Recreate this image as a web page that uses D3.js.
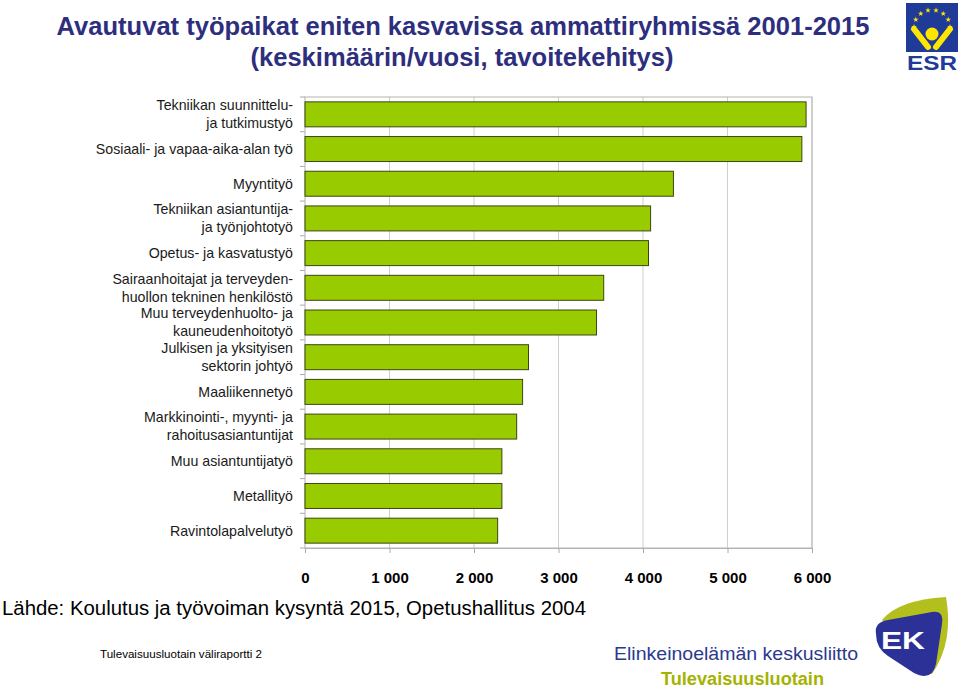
<!DOCTYPE html>
<html><head><meta charset="utf-8">
<script src="https://cdn.jsdelivr.net/npm/d3@7"></script>
<style>
body{margin:0;background:#fff;}
svg{display:block;font-family:"Liberation Sans",Arial,sans-serif;}
</style></head>
<body>
<svg id="chart" width="960" height="688"></svg>
<script>
const categories = [
  "Tekniikan suunnittelu-\nja tutkimustyö",
  "Sosiaali- ja vapaa-aika-alan työ",
  "Myyntityö",
  "Tekniikan asiantuntija-\nja työnjohtotyö",
  "Opetus- ja kasvatustyö",
  "Sairaanhoitajat ja terveyden-\nhuollon tekninen henkilöstö",
  "Muu terveydenhuolto- ja\nkauneudenhoitotyö",
  "Julkisen ja yksityisen\nsektorin johtyö",
  "Maaliikennetyö",
  "Markkinointi-, myynti- ja\nrahoitusasiantuntijat",
  "Muu asiantuntijatyö",
  "Metallityö",
  "Ravintolapalvelutyö"
];
const values = [5930, 5880, 4360, 4090, 4065, 3535, 3450, 2645, 2575, 2505, 2330, 2330, 2280];
const tickValues = [0, 1000, 2000, 3000, 4000, 5000, 6000];
const tickLabels = ["0", "1 000", "2 000", "3 000", "4 000", "5 000", "6 000"];
const titleLines = ["Avautuvat työpaikat eniten kasvavissa ammattiryhmissä 2001-2015", "(keskimäärin/vuosi, tavoitekehitys)"];

const svg = d3.select("#chart");
const L = 305, R = 812, T = 97, B = 548;

const x = d3.scaleLinear().domain([0, 6000]).range([L, R]);
const y = d3.scaleBand().domain(categories).range([T, B]).paddingInner(0.28).paddingOuter(0.14);

// grid
svg.append("g").selectAll("line").data(tickValues.slice(1)).join("line")
  .attr("x1", d => x(d)).attr("x2", d => x(d)).attr("y1", T).attr("y2", B)
  .attr("stroke", "#cfcfcf").attr("stroke-width", 1);
// plot border
svg.append("rect").attr("x", L).attr("y", T).attr("width", R - L).attr("height", B - T)
  .attr("fill", "none").attr("stroke", "#b4b4b4").attr("stroke-width", 1);

// left ticks at band boundaries
const off = (y.step() - y.bandwidth()) / 2;
svg.append("g").selectAll("line").data(categories).join("line")
  .attr("x1", L - 5).attr("x2", L).attr("y1", d => y(d) - off).attr("y2", d => y(d) - off)
  .attr("stroke", "#aaa");
svg.append("line").attr("x1", L - 5).attr("x2", L).attr("y1", B).attr("y2", B).attr("stroke", "#aaa");

// bottom axis
const ax = svg.append("g").attr("transform", `translate(0,${B})`)
  .call(d3.axisBottom(x).tickValues(tickValues).tickSize(5).tickPadding(19)
    .tickFormat((d, i) => tickLabels[i]));
ax.select(".domain").attr("stroke", "#b4b4b4");
ax.selectAll(".tick line").attr("stroke", "#aaa");
ax.selectAll(".tick text").attr("font-family", "'Liberation Sans',Arial,sans-serif")
  .attr("font-size", 15).attr("font-weight", "bold").attr("fill", "#000");

// bars
svg.append("g").selectAll("rect").data(categories).join("rect")
  .attr("x", x(0)).attr("y", d => y(d))
  .attr("width", (d, i) => x(values[i]) - x(0)).attr("height", y.bandwidth())
  .attr("fill", "#99cc00").attr("stroke", "#3b4712").attr("stroke-width", 1);

// category labels
const lab = svg.append("g").attr("font-size", 14.2).attr("fill", "#1a1a1a").attr("text-anchor", "end");
categories.forEach(c => {
  const lines = c.split("\n");
  const cy = y(c) + y.bandwidth() / 2;
  lines.forEach((ln, j) => {
    const dy = (j - (lines.length - 1) / 2) * 18;
    lab.append("text").attr("x", 293).attr("y", cy + dy + 4.9).text(ln);
  });
});

// title
svg.append("text").attr("x", 463).attr("y", 35).attr("text-anchor", "middle")
  .attr("font-size", 26).attr("font-weight", "bold").attr("fill", "#2e2e7e")
  .attr("textLength", 813).attr("lengthAdjust", "spacingAndGlyphs").text(titleLines[0]);
svg.append("text").attr("x", 462).attr("y", 66).attr("text-anchor", "middle")
  .attr("font-size", 26).attr("font-weight", "bold").attr("fill", "#2e2e7e")
  .attr("textLength", 423).attr("lengthAdjust", "spacingAndGlyphs").text(titleLines[1]);

// source
svg.append("text").attr("x", 2).attr("y", 615).attr("font-size", 19.5).attr("fill", "#000")
  .attr("textLength", 584).attr("lengthAdjust", "spacingAndGlyphs")
  .text("Lähde: Koulutus ja työvoiman kysyntä 2015, Opetushallitus 2004");
svg.append("text").attr("x", 100).attr("y", 658).attr("font-size", 11.5).attr("fill", "#000")
  .attr("textLength", 162).attr("lengthAdjust", "spacingAndGlyphs")
  .text("Tulevaisuusluotain väliraportti 2");
svg.append("text").attr("x", 614).attr("y", 660).attr("font-size", 18.5).attr("fill", "#2b3990")
  .attr("textLength", 244).attr("lengthAdjust", "spacingAndGlyphs")
  .text("Elinkeinoelämän keskusliitto");
svg.append("text").attr("x", 661).attr("y", 685).attr("font-size", 17.5).attr("font-weight", "bold").attr("fill", "#a3b300")
  .attr("textLength", 163).attr("lengthAdjust", "spacingAndGlyphs")
  .text("Tulevaisuusluotain");

// ESR logo
const esr = svg.append("g");
esr.append("rect").attr("x", 906).attr("y", 3).attr("width", 52).attr("height", 49).attr("fill", "#1f3b97");
const cx = 932, cyy = 27, rr = 18;
d3.range(8).forEach(k => {
  const a = Math.PI * (1.0 + k / 7);
  const sx = cx + rr * Math.cos(a), sy = cyy + rr * Math.sin(a) * 0.95;
  esr.append("path").attr("d", d3.symbol(d3.symbolStar, 10)()).attr("transform", `translate(${sx},${sy})`).attr("fill", "#ffe600");
});
esr.append("circle").attr("cx", cx).attr("cy", 34).attr("r", 6.5).attr("fill", "#ffe600");
esr.append("line").attr("x1", 914).attr("y1", 29).attr("x2", 928).attr("y2", 47).attr("stroke", "#ffe600").attr("stroke-width", 6).attr("stroke-linecap", "round");
esr.append("line").attr("x1", 950).attr("y1", 29).attr("x2", 936).attr("y2", 47).attr("stroke", "#ffe600").attr("stroke-width", 6).attr("stroke-linecap", "round");
esr.append("text").attr("x", 932).attr("y", 70).attr("text-anchor", "middle").attr("font-size", 20).attr("font-weight", "bold")
  .attr("fill", "#1f3b97").attr("textLength", 50).attr("lengthAdjust", "spacingAndGlyphs").text("ESR");

// EK logo
const ek = svg.append("g");
ek.append("path").attr("d", "M882,620 Q898,600 946,597 Q954,642 932,674 L910,660 Z").attr("fill", "#b3bf1c");
ek.append("path").attr("d", "M876,634 Q874,622 888,620 L932,612 Q944,610 942,624 L936,664 Q932,682 914,673 L888,656 Q876,648 876,634 Z").attr("fill", "#2b3196");
ek.append("text").attr("x", 903).attr("y", 649).attr("text-anchor", "middle").attr("font-size", 24).attr("font-weight", "bold")
  .attr("fill", "#fff").attr("textLength", 44).attr("lengthAdjust", "spacingAndGlyphs").text("EK");
</script>
</body></html>
